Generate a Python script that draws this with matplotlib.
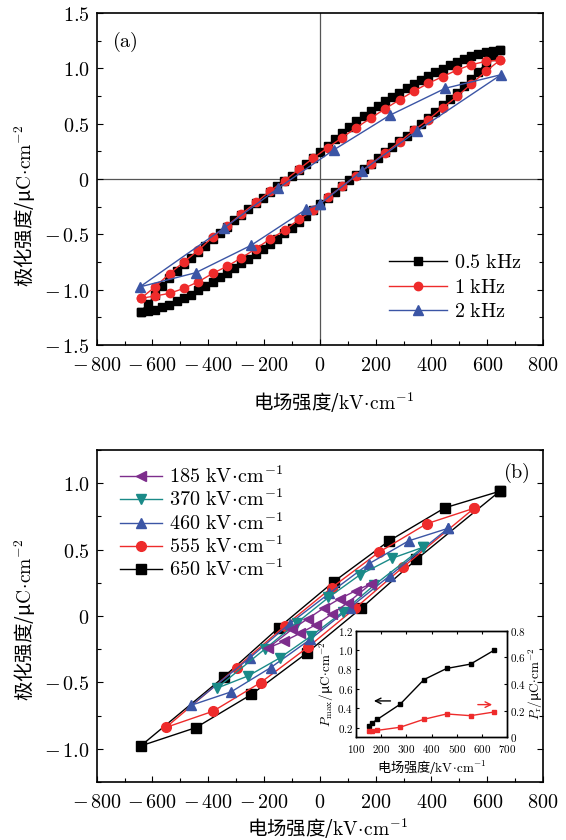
import matplotlib
matplotlib.use('Agg')
import matplotlib.pyplot as plt
from matplotlib.ticker import MultipleLocator, FuncFormatter, FixedLocator

plt.rcParams['mathtext.fontset'] = 'cm'
plt.rcParams['font.family'] = ['Noto Sans CJK SC', 'DejaVu Sans']
plt.rcParams['axes.unicode_minus'] = True

# ---------------- Panel (a): frequency dependence ----------------
# 0.5 kHz (black squares), upper branch (field decreasing) then lower branch (field increasing)
e05_up = [646, 620, 594, 568, 543, 517, 491, 466, 440, 414, 388, 363, 337, 311, 285, 260, 234,
          208, 182, 157, 131, 105, 79, 54, 28, 2, -24, -50, -75, -101, -127, -153, -178, -204,
          -230, -256, -281, -307, -333, -359, -384, -410, -436, -462, -487, -513, -539, -565,
          -590, -616, -642]
p05_up = [1.165, 1.16, 1.147, 1.131, 1.113, 1.087, 1.059, 1.029, 0.998, 0.97, 0.933, 0.898, 0.859,
          0.818, 0.779, 0.744, 0.704, 0.664, 0.618, 0.573, 0.522, 0.471, 0.414, 0.359, 0.302,
          0.244, 0.192, 0.14, 0.085, 0.028, -0.019, -0.066, -0.116, -0.168, -0.22, -0.272,
          -0.322, -0.375, -0.433, -0.49, -0.545, -0.602, -0.659, -0.716, -0.771, -0.831, -0.894,
          -0.968, -1.05, -1.128, -1.2]
e05_dn = [-642, -616, -590, -565, -539, -513, -487, -462, -436, -410, -384, -359, -333, -307, -281,
          -256, -230, -204, -178, -153, -127, -101, -75, -50, -24, 2, 28, 54, 79, 105, 131, 157,
          182, 208, 234, 260, 285, 311, 337, 363, 388, 414, 440, 466, 491, 517, 543, 568, 594,
          620, 646]
p05_dn = [-1.2, -1.19, -1.18, -1.16, -1.135, -1.105, -1.075, -1.045, -1.005, -0.97, -0.93, -0.89,
          -0.85, -0.805, -0.76, -0.72, -0.675, -0.63, -0.585, -0.54, -0.49, -0.44, -0.385, -0.33,
          -0.28, -0.23, -0.175, -0.12, -0.065, -0.012, 0.04, 0.09, 0.14, 0.19, 0.24, 0.29, 0.34,
          0.39, 0.445, 0.5, 0.555, 0.61, 0.665, 0.72, 0.78, 0.84, 0.905, 0.97, 1.04, 1.11, 1.165]

# 1 kHz (red circles)
e1_up = [646, 595, 543, 492, 440, 389, 337, 286, 234, 183, 131, 80, 28, -23, -75, -126, -178,
         -229, -281, -332, -384, -435, -487, -538, -590, -641]
p1_up = [1.075, 1.063, 1.033, 0.985, 0.925, 0.865, 0.794, 0.716, 0.635, 0.551, 0.464, 0.374,
         0.283, 0.19, 0.088, -0.015, -0.108, -0.212, -0.316, -0.422, -0.524, -0.644, -0.749,
         -0.854, -0.973, -1.078]
e1_dn = [-641, -590, -538, -487, -435, -384, -332, -281, -229, -178, -126, -75, -23, 28, 80, 131,
         183, 234, 286, 337, 389, 440, 492, 543, 595, 646]
p1_dn = [-1.078, -1.057, -1.033, -0.988, -0.928, -0.853, -0.788, -0.713, -0.629, -0.542, -0.464,
         -0.365, -0.28, -0.166, -0.067, 0.03, 0.135, 0.236, 0.335, 0.44, 0.536, 0.644, 0.746,
         0.86, 0.973, 1.075]

# 2 kHz (blue triangles)
e2 = [0, 150, 350, 650, 450, 250, 50, -150, -345, -645, -445, -246, -48, 0]
p2 = [-0.227, 0.072, 0.437, 0.943, 0.82, 0.575, 0.263, -0.084, -0.446, -0.975, -0.847, -0.599,
      -0.272, -0.227]

# ---------------- Panel (b): field-amplitude dependence ----------------
e185 = [185, 128, 71, 14, -43, -100, -185, -128, -71, -14, 43, 100, 185]
p185 = [0.245, 0.19, 0.13, 0.06, -0.02, -0.1, -0.24, -0.19, -0.13, -0.065, 0.015, 0.1, 0.245]

e370 = [370, 257, 144, 31, -82, -195, -370, -257, -144, -31, 82, 195, 370]
p370 = [0.518, 0.434, 0.311, 0.14, -0.05, -0.245, -0.544, -0.451, -0.316, -0.15, 0.03, 0.233, 0.518]

e460 = [460, 318, 176, 34, -108, -250, -460, -318, -176, -34, 108, 250, 460]
p460 = [0.661, 0.566, 0.394, 0.171, -0.057, -0.313, -0.671, -0.571, -0.388, -0.175, 0.063, 0.303, 0.661]

e555 = [553, 383, 212, 42, -126, -298, -552, -383, -212, -42, 126, 297, 553]
p555 = [0.812, 0.695, 0.481, 0.213, -0.075, -0.388, -0.839, -0.717, -0.501, -0.233, 0.058, 0.366, 0.812]

e650 = [645, 448, 248, 50, -147, -344, -642, -444, -245, -47, 149, 346, 645]
p650 = [0.94, 0.815, 0.566, 0.259, -0.087, -0.458, -0.978, -0.84, -0.59, -0.279, 0.06, 0.426, 0.94]

# inset
e_in = [150, 165, 185, 275, 370, 460, 555, 650]
pmax = [0.22, 0.25, 0.285, 0.44, 0.695, 0.81, 0.855, 1.0]
pr = [0.045, 0.05, 0.052, 0.075, 0.135, 0.175, 0.162, 0.19]

BLACK = '#000000'
RED = '#ee2b2b'
BLUE = '#3b55a5'
TEAL = '#1a8a88'
PURPLE = '#7d2d8c'

UNIT_E = r'$\mathrm{kV}\!\cdot\!\mathrm{cm}^{-1}$'
UNIT_P = r'$\mathrm{C}\!\cdot\!\mathrm{cm}^{-2}$'

def num_fmt(dec):
    def f(v, pos):
        if abs(v) < 1e-9:
            return r'$0$'
        s = f'{abs(v):.{dec}f}'
        return (r'$-\,' + s + '$') if v < 0 else ('$' + s + '$')
    return FuncFormatter(f)

fig = plt.figure(figsize=(5.66, 8.4), dpi=100)

def style_main(ax):
    ax.set_xlim(-800, 800)
    ax.xaxis.set_major_locator(MultipleLocator(200))
    ax.xaxis.set_minor_locator(MultipleLocator(100))
    ax.xaxis.set_major_formatter(num_fmt(0))
    ax.tick_params(which='both', direction='in', top=False, right=True, labelsize=14.5)
    ax.tick_params(which='major', length=4.5, width=0.8)
    ax.tick_params(which='minor', length=3, width=0.8)
    ax.tick_params(axis='x', pad=7)
    ax.tick_params(axis='y', pad=5)
    for s in ax.spines.values():
        s.set_linewidth(1.2)

# ---- panel a
axa = fig.add_axes([0.1707, 0.5893, 0.7887, 0.3952])
style_main(axa)
axa.set_ylim(-1.5, 1.5)
axa.yaxis.set_major_locator(MultipleLocator(0.5))
axa.yaxis.set_minor_locator(MultipleLocator(0.25))
axa.yaxis.set_major_formatter(num_fmt(1))
axa.axhline(0, color='#555555', lw=0.9, zorder=1)
axa.axvline(0, color='#555555', lw=0.9, zorder=1)

axa.plot(e05_up + e05_dn, p05_up + p05_dn, color=BLACK, marker='s', ms=5.8, lw=1.0,
         label=r'$0.5\ \mathrm{kHz}$', zorder=3)
axa.plot(e1_up + e1_dn, p1_up + p1_dn, color=RED, marker='o', ms=6, lw=1.0,
         label=r'$1\ \mathrm{kHz}$', zorder=4)
axa.plot(e2, p2, color=BLUE, marker='^', ms=7, lw=1.0, label=r'$2\ \mathrm{kHz}$', zorder=5)

la = axa.legend(loc='upper left', bbox_to_anchor=(0.655, 0.28), frameon=False, fontsize=14.5,
                handlelength=2.9, handletextpad=0.35, labelspacing=0.18, borderpad=0,
                borderaxespad=0, numpoints=1)
axa.text(0.034, 0.912, r'$(\mathrm{a})$', transform=axa.transAxes, fontsize=14.5,
         ha='left', va='center')
axa.set_xlabel('电场强度/' + UNIT_E, fontsize=14)
axa.set_ylabel('极化强度/μ' + UNIT_P, fontsize=14)
axa.xaxis.set_label_coords(0.53, -0.174)
axa.xaxis.label.set_va('center')
axa.yaxis.set_label_coords(-0.16, 0.42)
axa.yaxis.label.set_va('center')

# ---- panel b
axb = fig.add_axes([0.1707, 0.069, 0.7887, 0.3952])
style_main(axb)
axb.set_ylim(-1.25, 1.25)
axb.yaxis.set_major_locator(MultipleLocator(0.5))
axb.yaxis.set_minor_locator(MultipleLocator(0.25))
axb.yaxis.set_major_formatter(num_fmt(1))

axb.plot(e185, p185, color=PURPLE, marker='<', ms=7.5, lw=1.0,
         label=r'$185\ $' + UNIT_E, zorder=7)
axb.plot(e370, p370, color=TEAL, marker='v', ms=7.5, lw=1.0,
         label=r'$370\ $' + UNIT_E, zorder=6)
axb.plot(e460, p460, color=BLUE, marker='^', ms=7.5, lw=1.0,
         label=r'$460\ $' + UNIT_E, zorder=5)
axb.plot(e555, p555, color=RED, marker='o', ms=7, lw=1.0,
         label=r'$555\ $' + UNIT_E, zorder=4)
axb.plot(e650, p650, color=BLACK, marker='s', ms=6.5, lw=1.0,
         label=r'$650\ $' + UNIT_E, zorder=3)

lb = axb.legend(loc='upper left', bbox_to_anchor=(0.052, 0.95), frameon=False, fontsize=14.5,
                handlelength=2.1, handletextpad=0.35, labelspacing=0.09, borderpad=0,
                borderaxespad=0, numpoints=1)
axb.text(0.971, 0.931, r'$(\mathrm{b})$', transform=axb.transAxes, fontsize=14.5,
         ha='right', va='center')
axb.set_xlabel('电场强度/' + UNIT_E, fontsize=14)
axb.set_ylabel('极化强度/μ' + UNIT_P, fontsize=14)
axb.xaxis.set_label_coords(0.518, -0.142)
axb.xaxis.label.set_va('center')
axb.yaxis.set_label_coords(-0.16, 0.49)
axb.yaxis.label.set_va('center')

# ---- inset
axi = fig.add_axes([0.629, 0.1223, 0.2668, 0.1269])
axi.set_xlim(100, 700)
axi.set_ylim(0.1, 1.2)
axi.xaxis.set_major_locator(MultipleLocator(100))
axi.yaxis.set_major_locator(FixedLocator([0.2, 0.4, 0.6, 0.8, 1.0, 1.2]))
axi.xaxis.set_major_formatter(num_fmt(0))
axi.yaxis.set_major_formatter(num_fmt(1))
axi.tick_params(which='both', direction='in', top=True, right=False, labelsize=8, length=2.5,
                pad=2)
axi.tick_params(axis='x', pad=4)
axi.plot(e_in, pmax, color=BLACK, marker='s', ms=2.8, lw=1.0)
axi.annotate('', xy=(160, 0.475), xytext=(248, 0.475),
             arrowprops=dict(arrowstyle='->', color=BLACK, lw=1.0))
axi.set_xlabel('电场强度/' + UNIT_E, fontsize=9.5, labelpad=2)
axi.set_ylabel(r'$P_{\mathrm{max}}/$μ' + UNIT_P, fontsize=9.5, labelpad=1)

axr = axi.twinx()
axr.set_ylim(0, 0.8)
axr.yaxis.set_major_locator(MultipleLocator(0.2))
axr.yaxis.set_major_formatter(num_fmt(1))
axr.tick_params(which='both', direction='in', labelsize=8, length=2.5, pad=2)
axr.plot(e_in, pr, color=RED, marker='s', ms=2.8, lw=1.0)
axr.annotate('', xy=(652, 0.245), xytext=(573, 0.245),
             arrowprops=dict(arrowstyle='->', color=RED, lw=1.0))
axr.set_ylabel(r'$P_{\mathrm{r}}/$μ' + UNIT_P, fontsize=9.5, labelpad=1)
for a in (axi, axr):
    for s in a.spines.values():
        s.set_linewidth(1.0)

fig.savefig('out.png', dpi=100)
